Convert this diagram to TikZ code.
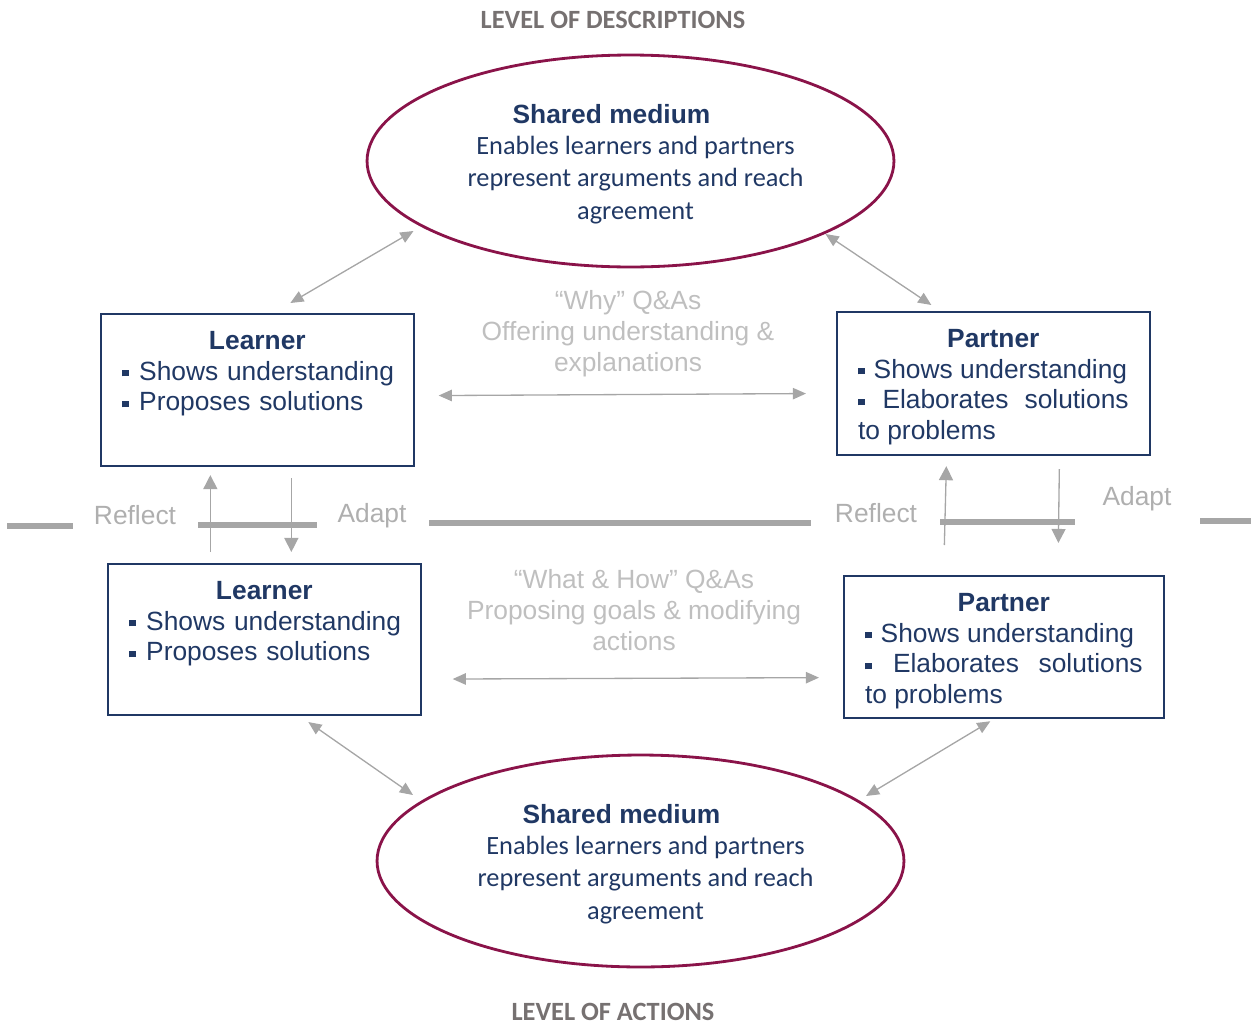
\documentclass[tikz,border=0pt]{standalone}
\usepackage{fontspec}
\setmainfont{Liberation Sans}
\newfontfamily\calibri{Carlito}
\usetikzlibrary{positioning, arrows.meta, shapes.geometric, calc}
\definecolor{myblue}{HTML}{203864}
\definecolor{mymaroon}{HTML}{8A1349}
\definecolor{mygrey}{HTML}{A6A6A6}
\definecolor{lightgrey}{HTML}{BFBFBF}
\definecolor{levelgrey}{HTML}{767171}
\newcommand{\sqb}{\rule[0.14em]{0.25em}{0.25em}\hspace{1pt}}

\begin{document}
\begin{tikzpicture}[x=0.02cm, y=-0.02cm,
    agent/.style={draw=myblue, line width=1.1pt, text=myblue, anchor=north west, text width=154pt, inner xsep=12pt, inner ysep=9pt, text height=11pt, align=left, font=\fontsize{15}{17.6}\selectfont},
    medium/.style={ellipse, draw=mymaroon, line width=1.6pt, minimum width=10.54cm, minimum height=4.24cm, inner sep=0pt, text=myblue, align=center, font=\calibri\fontsize{15}{18.4}\selectfont},
    qa/.style={text=lightgrey, align=center, anchor=base, font=\fontsize{15}{17.6}\selectfont},
    phase/.style={text=mygrey!90, font=\fontsize{15}{18}\selectfont},
    levelname/.style={text=levelgrey, inner sep=0pt, font=\calibri\bfseries\fontsize{15}{18}\selectfont},
    bilink/.style={draw=mygrey, line width=0.75pt, {Triangle[length=7.5pt,width=6.5pt]}-{Triangle[length=7.5pt,width=6.5pt]}},
    stepflow/.style={draw=mygrey, line width=0.75pt, -{Triangle[length=8pt,width=8pt]}},
    divider/.style={draw=mygrey, line width=3.4pt},
]
\useasboundingbox (0,0) rectangle (1251,1028);

\node[levelname] (lvldescr) at (613,20) {LEVEL OF DESCRIPTIONS};
\node[medium] (descr) at (630.5,161) {\hspace*{0.2cm}\rule{0pt}{14.5pt}{\rmfamily\bfseries Shared medium}\hspace*{0.96cm}\\[-1.1pt]\hspace*{0.2cm}Enables learners and partners\\\hspace*{0.2cm}represent arguments and reach\\\hspace*{0.2cm}agreement};

\node[agent, text depth=57.6pt] (learnerD) at (100,313) {{\centering\textbf{Learner}\par}\mbox{\sqb{} Shows understanding}\par\mbox{\sqb{} Proposes solutions}};
\node[agent, align=justify, text depth=52.5pt] (partnerD) at (836,311) {{\centering\textbf{Partner}\par}\sqb{} Shows understanding\par\sqb{} Elaborates solutions\linebreak to problems};
\node[qa] (why) at (628,371.5) {“Why” Q\&As\\Offering understanding \&\\explanations};

% reflect / adapt between the two levels
\node[phase] (reflectL) at (135,515) {Reflect};
\node[phase] (adaptL) at (372,516) {Adapt};
\node[phase] (reflectR) at (876,513) {Reflect};
\node[phase] (adaptR) at (1137,499) {Adapt};
\foreach \xa/\xb/\yy in {7/73/526, 198/317/525, 429/811/523, 940/1075/522, 1200/1251/521}
    \draw[divider] (\xa,\yy) -- (\xb,\yy);

\node[agent, text depth=57pt] (learnerA) at (107,563) {{\centering\textbf{Learner}\par}\mbox{\sqb{} Shows understanding}\par\mbox{\sqb{} Proposes solutions}};
\node[agent, text width=158pt, align=justify, text depth=52pt] (partnerA) at (843,575) {{\centering\textbf{Partner}\par}\sqb{} Shows understanding\par\sqb{} Elaborates solutions\linebreak to problems};
\node[qa] (whathow) at (634,650.5) {“What \& How” Q\&As\\Proposing goals \& modifying\\actions};

\node[medium] (action) at (640.5,861) {\hspace*{0.2cm}\rule{0pt}{14.5pt}{\rmfamily\bfseries Shared medium}\hspace*{0.96cm}\\[-1.1pt]\hspace*{0.2cm}Enables learners and partners\\\hspace*{0.2cm}represent arguments and reach\\\hspace*{0.2cm}agreement};
\node[levelname] (lvlaction) at (613,1012) {LEVEL OF ACTIONS};

% connectors
\draw[bilink] ($(learnerD.north)+(33,-10)$) -- ($(descr.center)+(-217,70)$);
\draw[bilink] ($(descr.center)+(195,73)$) -- ($(partnerD.north)+(-62,-6)$);
\draw[bilink] ($(learnerD.east)+(24,5.5)$) -- ($(partnerD.west)+(-30,10)$);
\draw[bilink] ($(learnerA.east)+(31,39.5)$) -- ($(partnerA.west)+(-24,30.5)$);
\draw[bilink] ($(learnerA.south)+(44,6)$) -- ($(action.center)+(-227.5,-66)$);
\draw[bilink] ($(partnerA.south)+(-13.5,2)$) -- ($(action.center)+(225.5,-65)$);

\draw[stepflow] ($(learnerA.north)+(-54,-11)$) -- ($(learnerD.south)+(-47,8)$);
\draw[stepflow] ($(learnerD.south)+(34,11)$) -- ($(learnerA.north)+(27,-11)$);
\draw[stepflow] ($(partnerA.north)+(-59.5,-30)$) -- ($(partnerD.south)+(-47,10)$);
\draw[stepflow] ($(partnerD.south)+(66,13)$) -- ($(partnerA.north)+(54.5,-32)$);
\end{tikzpicture}
\end{document}
